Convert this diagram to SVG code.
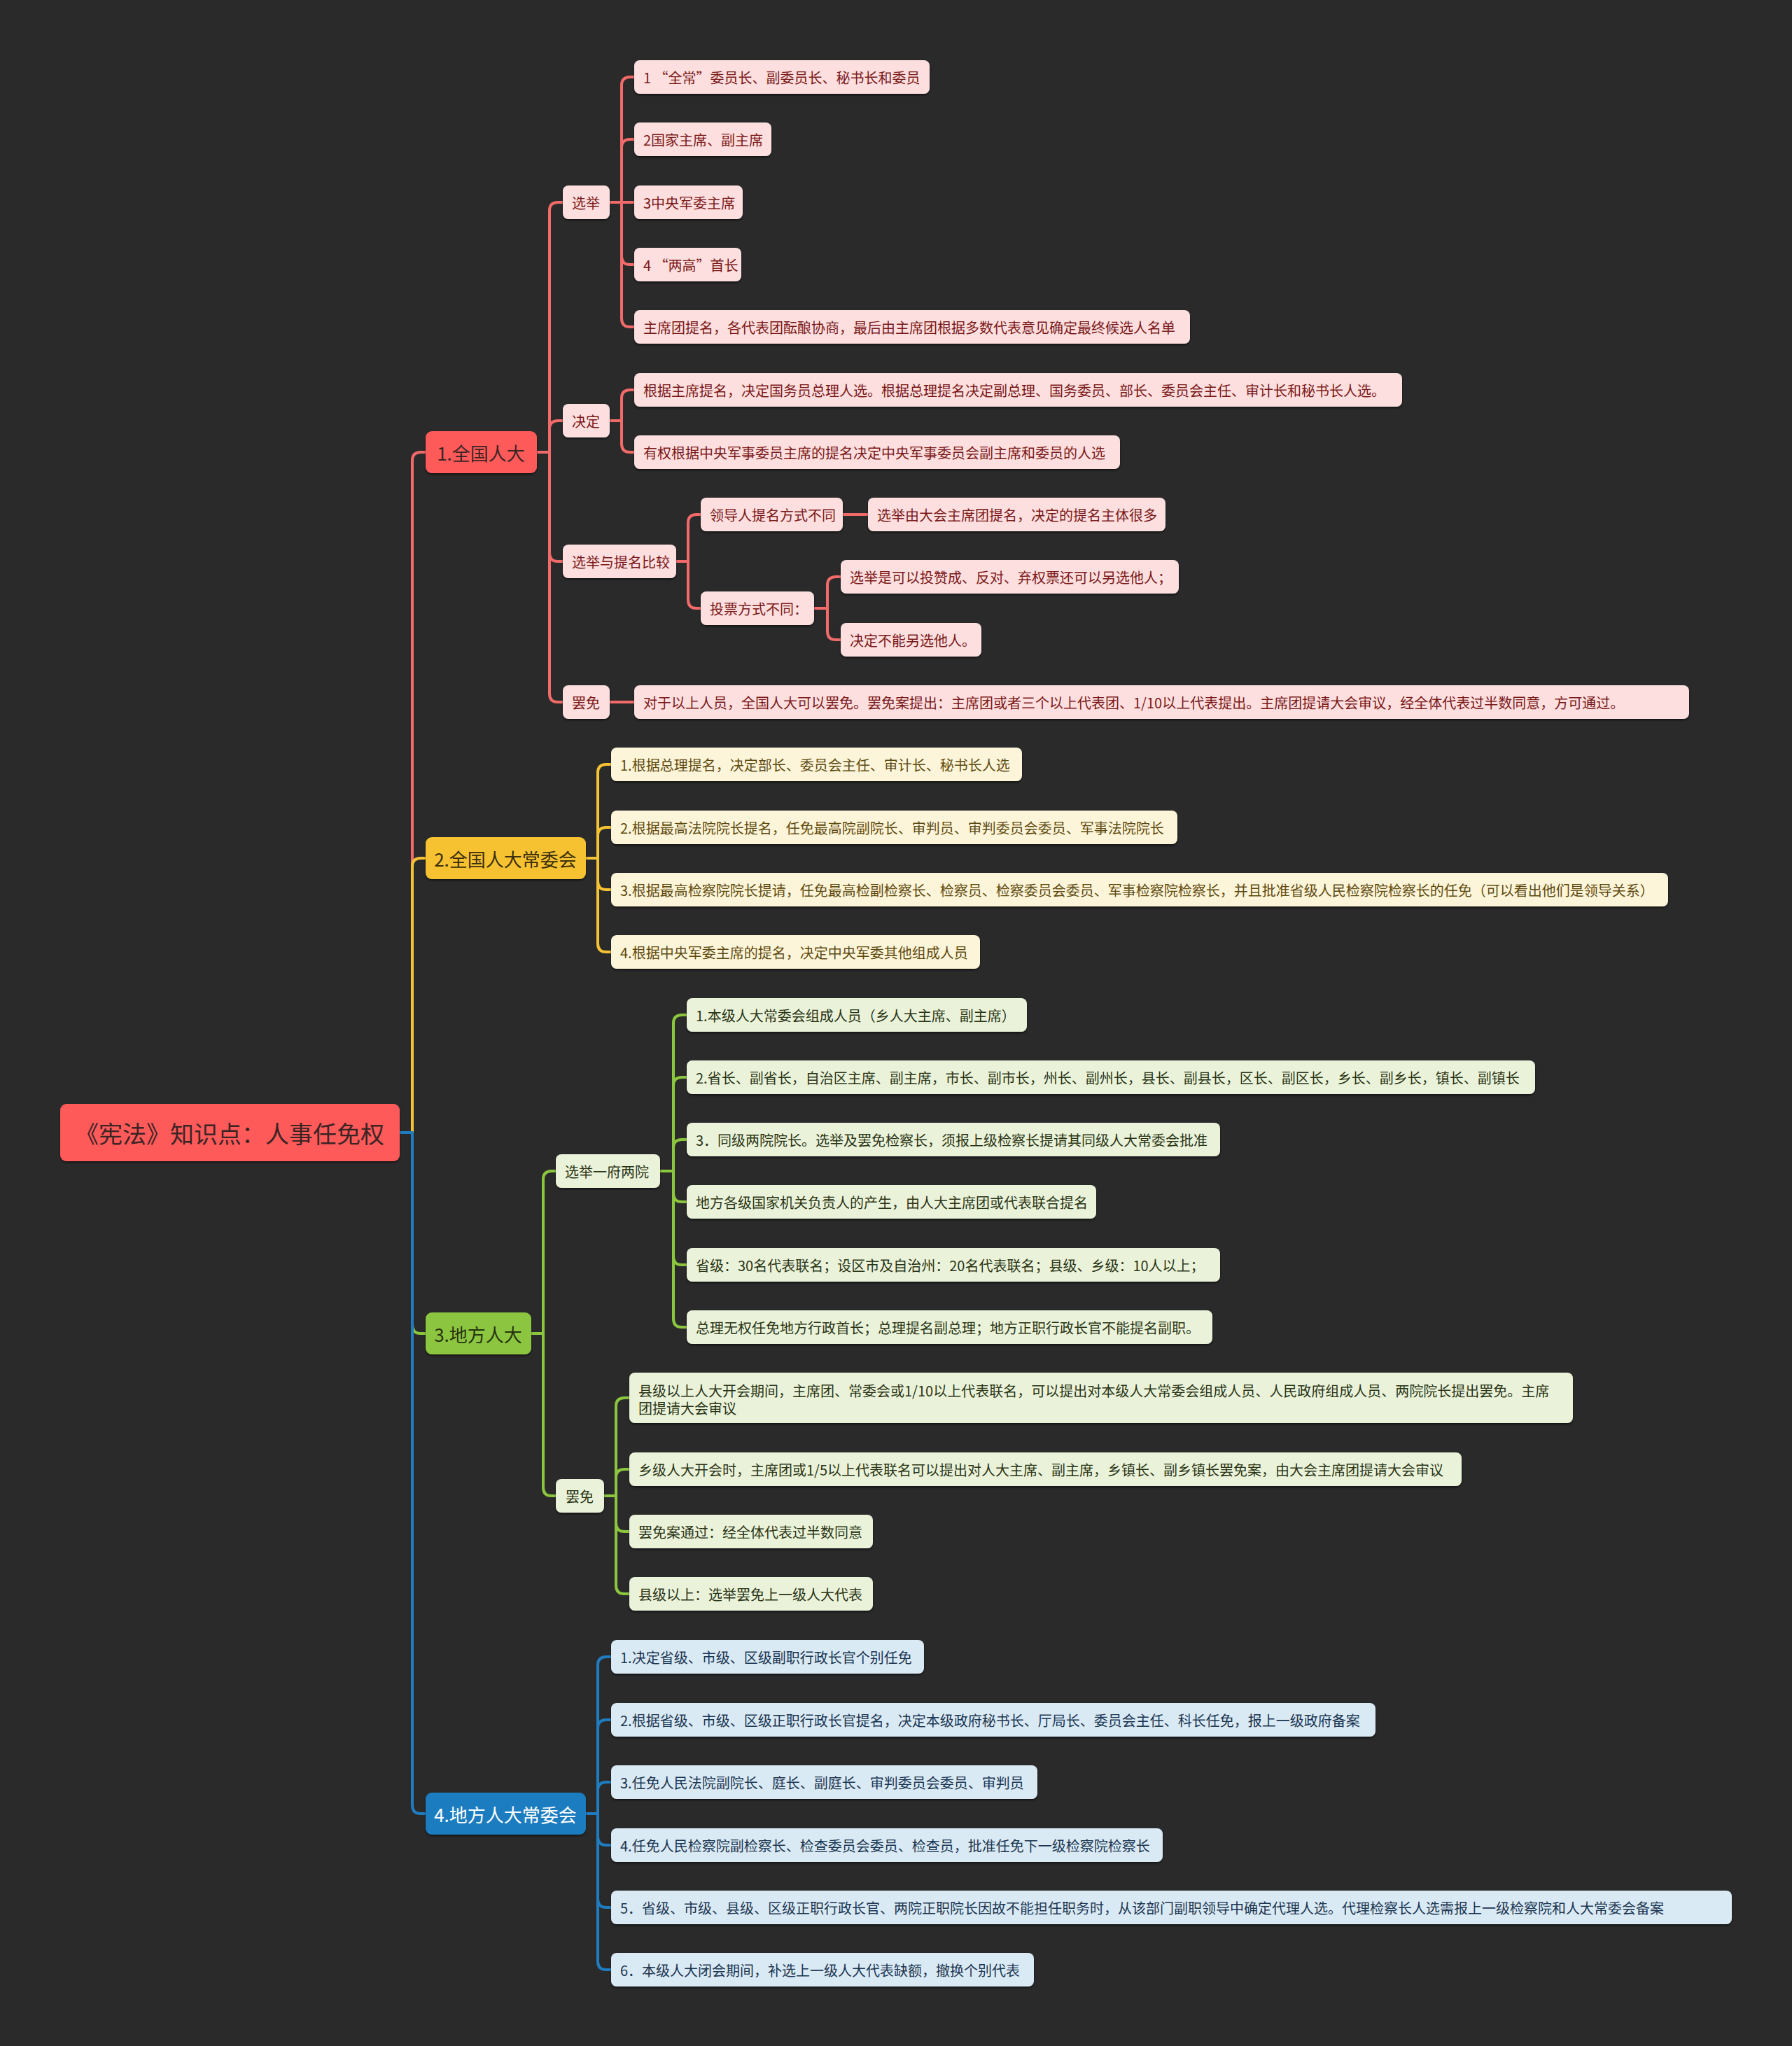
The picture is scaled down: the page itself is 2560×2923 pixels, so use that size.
<svg xmlns="http://www.w3.org/2000/svg" width="2560" height="2923" viewBox="0 0 2560 2923">
<defs>
<filter id="sh" x="-5%" y="-20%" width="110%" height="150%"><feDropShadow dx="0" dy="2" stdDeviation="1.5" flood-color="#000" flood-opacity="0.55"/></filter>
<style>
text{font-family:"Noto Sans CJK SC","Noto Sans",sans-serif;dominant-baseline:central}
.c path{fill:none;stroke-width:4;stroke-linecap:round;stroke-linejoin:round}
.cr path{stroke:#F26A6A}
.cy path{stroke:#F5C233}
.cg path{stroke:#8CC63F}
.cb path{stroke:#1F7CC0}
.n rect{filter:url(#sh)}
.t20{font-size:20px}
.lr rect{fill:#FDDFDF}.lr text{fill:#7A1818}
.ly rect{fill:#FDF5D9}.ly text{fill:#5E4A10}
.lg rect{fill:#EAF3DA}.lg text{fill:#2A3415}
.lb rect{fill:#DAEAF5}.lb text{fill:#1A3550}
.m text{font-size:26px;text-anchor:middle}
</style>
</defs>
<rect width="2560" height="2923" fill="#2A2A2A"/>

<g id="connectors" class="c">
<g class="cr">
<path d="M571 1618H589V658Q589 646 601 646H608"/>
<path d="M767 646H785V301Q785 289 797 289H804"/>
<path d="M767 646H785V613Q785 601 797 601H804"/>
<path d="M767 646H785V790Q785 802 797 802H804"/>
<path d="M767 646H785V991Q785 1003 797 1003H804"/>
<path d="M871 289H888V122Q888 110 900 110H906"/>
<path d="M871 289H888V211Q888 199 900 199H906"/>
<path d="M871 289H906"/>
<path d="M871 289H888V366Q888 378 900 378H906"/>
<path d="M871 289H888V455Q888 467 900 467H906"/>
<path d="M871 601H888V569Q888 557 900 557H906"/>
<path d="M871 601H888V634Q888 646 900 646H906"/>
<path d="M966 802H983V747Q983 735 995 735H1001"/>
<path d="M966 802H983V857Q983 869 995 869H1001"/>
<path d="M1204 735H1240"/>
<path d="M1163 869H1182V836Q1182 824 1194 824H1201"/>
<path d="M1163 869H1182V902Q1182 914 1194 914H1201"/>
<path d="M871 1003H906"/>
</g>
<g class="cy">
<path d="M571 1618H589V1238Q589 1226 601 1226H608"/>
<path d="M837 1226H854V1104Q854 1092 866 1092H873"/>
<path d="M837 1226H854V1194Q854 1182 866 1182H873"/>
<path d="M837 1226H854V1259Q854 1271 866 1271H873"/>
<path d="M837 1226H854V1348Q854 1360 866 1360H873"/>
</g>
<g class="cg">
<path d="M571 1618H589V1893Q589 1905 601 1905H608"/>
<path d="M759 1905H776V1685Q776 1673 788 1673H794"/>
<path d="M759 1905H776V2125Q776 2137 788 2137H794"/>
<path d="M943 1673H962V1462Q962 1450 974 1450H981"/>
<path d="M943 1673H962V1551Q962 1539 974 1539H981"/>
<path d="M943 1673H962V1640Q962 1628 974 1628H981"/>
<path d="M943 1673H962V1705Q962 1717 974 1717H981"/>
<path d="M943 1673H962V1795Q962 1807 974 1807H981"/>
<path d="M943 1673H962V1884Q962 1896 974 1896H981"/>
<path d="M863 2137H880V2009Q880 1997 892 1997H899"/>
<path d="M863 2137H880V2111Q880 2099 892 2099H899"/>
<path d="M863 2137H880V2176Q880 2188 892 2188H899"/>
<path d="M863 2137H880V2265Q880 2277 892 2277H899"/>
</g>
<g class="cb">
<path d="M571 1618H589V2579Q589 2591 601 2591H608"/>
<path d="M837 2591H854V2379Q854 2367 866 2367H873"/>
<path d="M837 2591H854V2469Q854 2457 866 2457H873"/>
<path d="M837 2591H854V2558Q854 2546 866 2546H873"/>
<path d="M837 2591H854V2624Q854 2636 866 2636H873"/>
<path d="M837 2591H854V2713Q854 2725 866 2725H873"/>
<path d="M837 2591H854V2802Q854 2814 866 2814H873"/>
</g>
</g>

<g id="root" class="n"><rect x="86" y="1577" width="485" height="82" rx="9" fill="#FF5A5A"/><text x="328" y="1618" font-size="34" text-anchor="middle" fill="#3A2424">《宪法》知识点：人事任免权</text></g>

<g id="n1" class="n m"><rect x="608" y="616" width="159" height="60" rx="9" fill="#FF5A5A"/><text x="687" y="646" fill="#3A2424">1.全国人大</text></g>
<g id="n2" class="n m"><rect x="608" y="1196" width="229" height="60" rx="9" fill="#F7C232"/><text x="722" y="1226" fill="#3A2E0C">2.全国人大常委会</text></g>
<g id="n3" class="n m"><rect x="608" y="1875" width="151" height="60" rx="9" fill="#8CC63F"/><text x="683" y="1905" fill="#26330F">3.地方人大</text></g>
<g id="n4" class="n m"><rect x="608" y="2561" width="229" height="60" rx="9" fill="#1F7CC0"/><text x="722" y="2591" fill="#FFFFFF">4.地方人大常委会</text></g>

<g class="t20">
<g id="n1a" class="n lr"><rect x="804" y="265" width="67" height="48" rx="8"/><text x="817" y="289">选举</text></g>
<g id="n1b" class="n lr"><rect x="804" y="577" width="67" height="48" rx="8"/><text x="817" y="601">决定</text></g>
<g id="n1c" class="n lr"><rect x="804" y="778" width="162" height="48" rx="8"/><text x="817" y="802">选举与提名比较</text></g>
<g id="n1d" class="n lr"><rect x="804" y="979" width="67" height="48" rx="8"/><text x="817" y="1003">罢免</text></g>

<g id="n1a1" class="n lr"><rect x="906" y="86" width="422" height="48" rx="8"/><text x="919" y="110">1 “全常”委员长、副委员长、秘书长和委员</text></g>
<g id="n1a2" class="n lr"><rect x="906" y="175" width="196" height="48" rx="8"/><text x="919" y="199">2国家主席、副主席</text></g>
<g id="n1a3" class="n lr"><rect x="906" y="265" width="155" height="48" rx="8"/><text x="919" y="289">3中央军委主席</text></g>
<g id="n1a4" class="n lr"><rect x="906" y="354" width="153" height="48" rx="8"/><text x="919" y="378">4 “两高”首长</text></g>
<g id="n1a5" class="n lr"><rect x="906" y="443" width="794" height="48" rx="8"/><text x="919" y="467">主席团提名，各代表团酝酿协商，最后由主席团根据多数代表意见确定最终候选人名单</text></g>
<g id="n1b1" class="n lr"><rect x="906" y="533" width="1097" height="48" rx="8"/><text x="919" y="557">根据主席提名，决定国务员总理人选。根据总理提名决定副总理、国务委员、部长、委员会主任、审计长和秘书长人选。</text></g>
<g id="n1b2" class="n lr"><rect x="906" y="622" width="694" height="48" rx="8"/><text x="919" y="646">有权根据中央军事委员主席的提名决定中央军事委员会副主席和委员的人选</text></g>
<g id="n1c1" class="n lr"><rect x="1001" y="711" width="203" height="48" rx="8"/><text x="1014" y="735">领导人提名方式不同</text></g>
<g id="n1c1a" class="n lr"><rect x="1240" y="711" width="425" height="48" rx="8"/><text x="1253" y="735">选举由大会主席团提名，决定的提名主体很多</text></g>
<g id="n1c2" class="n lr"><rect x="1001" y="845" width="162" height="48" rx="8"/><text x="1014" y="869">投票方式不同：</text></g>
<g id="n1c2a" class="n lr"><rect x="1201" y="800" width="483" height="48" rx="8"/><text x="1214" y="824">选举是可以投赞成、反对、弃权票还可以另选他人；</text></g>
<g id="n1c2b" class="n lr"><rect x="1201" y="890" width="201" height="48" rx="8"/><text x="1214" y="914">决定不能另选他人。</text></g>
<g id="n1d1" class="n lr"><rect x="906" y="979" width="1507" height="48" rx="8"/><text x="919" y="1003">对于以上人员，全国人大可以罢免。罢免案提出：主席团或者三个以上代表团、1/10以上代表提出。主席团提请大会审议，经全体代表过半数同意，方可通过。</text></g>

<g id="n2a" class="n ly"><rect x="873" y="1068" width="587" height="48" rx="8"/><text x="886" y="1092">1.根据总理提名，决定部长、委员会主任、审计长、秘书长人选</text></g>
<g id="n2b" class="n ly"><rect x="873" y="1158" width="809" height="48" rx="8"/><text x="886" y="1182">2.根据最高法院院长提名，任免最高院副院长、审判员、审判委员会委员、军事法院院长</text></g>
<g id="n2c" class="n ly"><rect x="873" y="1247" width="1510" height="48" rx="8"/><text x="886" y="1271">3.根据最高检察院院长提请，任免最高检副检察长、检察员、检察委员会委员、军事检察院检察长，并且批准省级人民检察院检察长的任免（可以看出他们是领导关系）</text></g>
<g id="n2d" class="n ly"><rect x="873" y="1336" width="527" height="48" rx="8"/><text x="886" y="1360">4.根据中央军委主席的提名，决定中央军委其他组成人员</text></g>

<g id="n3a" class="n lg"><rect x="794" y="1649" width="149" height="48" rx="8"/><text x="807" y="1673">选举一府两院</text></g>
<g id="n3b" class="n lg"><rect x="794" y="2113" width="69" height="48" rx="8"/><text x="808" y="2137">罢免</text></g>
<g id="n3a1" class="n lg"><rect x="981" y="1426" width="486" height="48" rx="8"/><text x="994" y="1450">1.本级人大常委会组成人员（乡人大主席、副主席）</text></g>
<g id="n3a2" class="n lg"><rect x="981" y="1515" width="1212" height="48" rx="8"/><text x="994" y="1539">2.省长、副省长，自治区主席、副主席，市长、副市长，州长、副州长，县长、副县长，区长、副区长，乡长、副乡长，镇长、副镇长</text></g>
<g id="n3a3" class="n lg"><rect x="981" y="1604" width="762" height="48" rx="8"/><text x="994" y="1628">3．同级两院院长。选举及罢免检察长，须报上级检察长提请其同级人大常委会批准</text></g>
<g id="n3a4" class="n lg"><rect x="981" y="1693" width="585" height="48" rx="8"/><text x="994" y="1717">地方各级国家机关负责人的产生，由人大主席团或代表联合提名</text></g>
<g id="n3a5" class="n lg"><rect x="981" y="1783" width="762" height="48" rx="8"/><text x="994" y="1807">省级：30名代表联名；设区市及自治州：20名代表联名；县级、乡级：10人以上；</text></g>
<g id="n3a6" class="n lg"><rect x="981" y="1872" width="751" height="48" rx="8"/><text x="994" y="1896">总理无权任免地方行政首长；总理提名副总理；地方正职行政长官不能提名副职。</text></g>
<g id="n3b1" class="n lg"><rect x="899" y="1961" width="1348" height="72" rx="8"/><text x="912" y="1986">县级以上人大开会期间，主席团、常委会或1/10以上代表联名，可以提出对本级人大常委会组成人员、人民政府组成人员、两院院长提出罢免。主席</text><text x="912" y="2011">团提请大会审议</text></g>
<g id="n3b2" class="n lg"><rect x="899" y="2075" width="1189" height="48" rx="8"/><text x="912" y="2099">乡级人大开会时，主席团或1/5以上代表联名可以提出对人大主席、副主席，乡镇长、副乡镇长罢免案，由大会主席团提请大会审议</text></g>
<g id="n3b3" class="n lg"><rect x="899" y="2164" width="348" height="48" rx="8"/><text x="912" y="2188">罢免案通过：经全体代表过半数同意</text></g>
<g id="n3b4" class="n lg"><rect x="899" y="2253" width="348" height="48" rx="8"/><text x="912" y="2277">县级以上：选举罢免上一级人大代表</text></g>

<g id="n4a" class="n lb"><rect x="873" y="2343" width="447" height="48" rx="8"/><text x="886" y="2367">1.决定省级、市级、区级副职行政长官个别任免</text></g>
<g id="n4b" class="n lb"><rect x="873" y="2433" width="1092" height="48" rx="8"/><text x="886" y="2457">2.根据省级、市级、区级正职行政长官提名，决定本级政府秘书长、厅局长、委员会主任、科长任免，报上一级政府备案</text></g>
<g id="n4c" class="n lb"><rect x="873" y="2522" width="609" height="48" rx="8"/><text x="886" y="2546">3.任免人民法院副院长、庭长、副庭长、审判委员会委员、审判员</text></g>
<g id="n4d" class="n lb"><rect x="873" y="2612" width="788" height="48" rx="8"/><text x="886" y="2636">4.任免人民检察院副检察长、检查委员会委员、检查员，批准任免下一级检察院检察长</text></g>
<g id="n4e" class="n lb"><rect x="873" y="2701" width="1601" height="48" rx="8"/><text x="886" y="2725">5．省级、市级、县级、区级正职行政长官、两院正职院长因故不能担任职务时，从该部门副职领导中确定代理人选。代理检察长人选需报上一级检察院和人大常委会备案</text></g>
<g id="n4f" class="n lb"><rect x="873" y="2790" width="604" height="48" rx="8"/><text x="886" y="2814">6．本级人大闭会期间，补选上一级人大代表缺额，撤换个别代表</text></g>
</g>
</svg>
